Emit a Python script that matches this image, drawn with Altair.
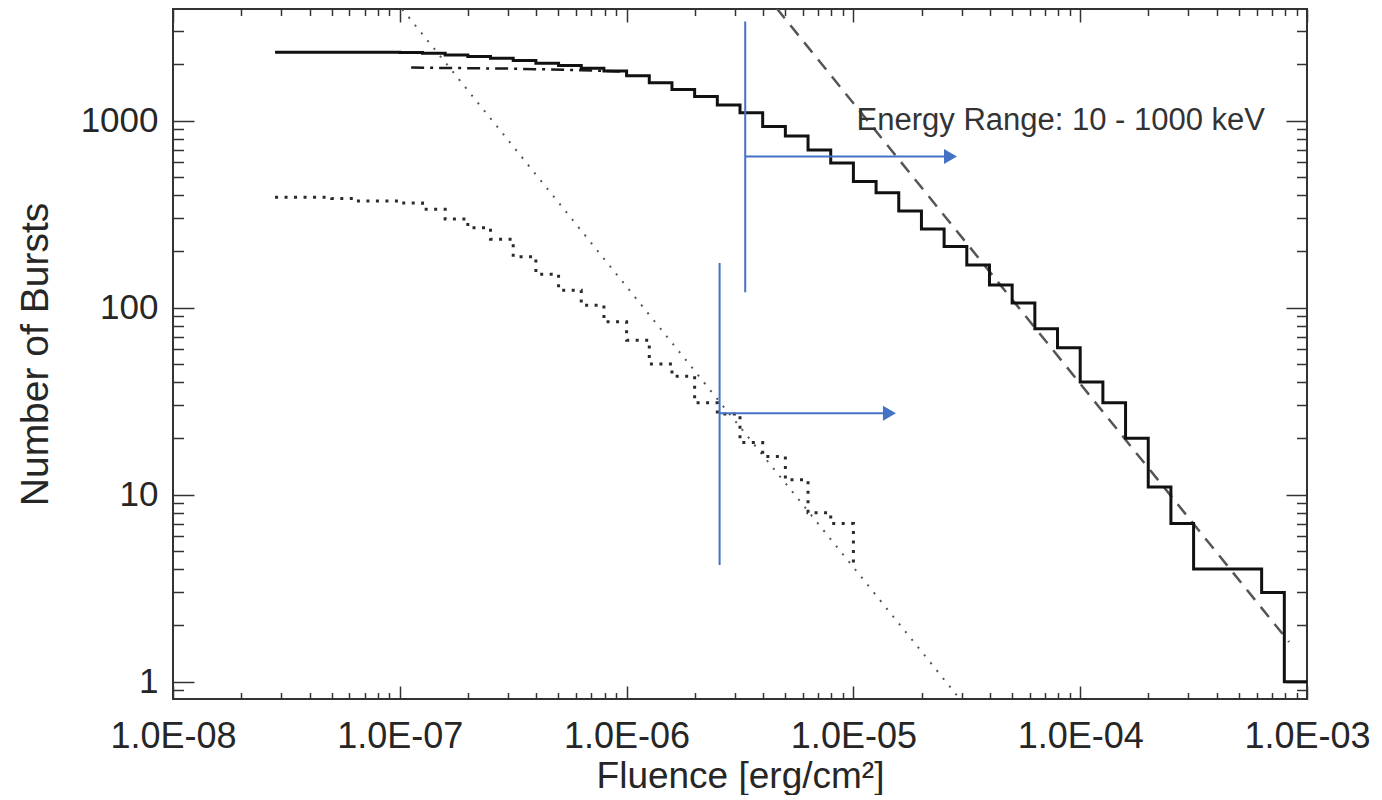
import altair as alt
import pandas as pd

# ---- data (fluence as log10 values, counts as numbers) ----
# Total sample, cumulative step histogram (lower bin edge in log10 fluence, count)
solid_log_edges = [-7.55, -7.1, -7.0, -6.9, -6.8, -6.7, -6.6, -6.5, -6.4, -6.3, -6.2,
                   -6.1, -6.0, -5.9, -5.8, -5.7, -5.6, -5.5, -5.4, -5.3, -5.2, -5.1,
                   -5.0, -4.9, -4.8, -4.7, -4.6, -4.5, -4.4, -4.3, -4.2, -4.1, -4.0,
                   -3.9, -3.8, -3.7, -3.6, -3.5, -3.2, -3.1, -3.0]
solid_counts = [2322, 2318, 2310, 2293, 2245, 2199, 2156, 2094, 2028, 1969, 1907,
                1844, 1734, 1591, 1468, 1344, 1213, 1100, 929, 828, 697, 594,
                472, 411, 329, 263, 212, 169, 132, 106, 77, 61, 40,
                31, 20, 11, 7, 4, 3, 1, 1]

# Sub-sample, cumulative step histogram (dotted)
dotted_log_edges = [-7.55, -7.3, -7.2, -7.0, -6.9, -6.8, -6.7, -6.6, -6.5, -6.4, -6.3,
                    -6.2, -6.1, -6.0, -5.9, -5.8, -5.7, -5.6, -5.5, -5.4, -5.3, -5.2,
                    -5.1, -5.0]
dotted_counts = [389, 383, 372, 362, 336, 298, 267, 232, 187, 151, 124,
                 103, 84, 67, 50, 43, 31, 27, 19, 16, 12, 8,
                 7, 4]

# Dash-dot model curve
dashdot_log_f = [-6.95, -6.5, -6.2, -6.03]
dashdot_counts = [1920, 1895, 1860, 1830]

# Power-law reference lines (end points)
pl_dotted_log_f = [-7.1, -4.4]
pl_dotted_counts = [5778, 0.515]
pl_dashed_log_f = [-5.4, -3.079]
pl_dashed_counts = [4928, 1.63]

# Blue threshold markers
marker_log_f = [-5.477, -5.590]
marker_top = [3383, 173]
marker_bottom = [121, 4.2]
arrow_level = [642, 27.2]
arrow_head_log_f = [-4.572, -4.841]

annotation_text = ["Energy Range: 10 - 1000 keV"]
annotation_log_f = [-3.185]
annotation_count = [891]

x_major = [1e-8, 1e-7, 1e-6, 1e-5, 1e-4, 1e-3]
x_minor = [m * 10.0 ** k for k in range(-8, -3) for m in range(2, 10)]
y_major = [1, 10, 100, 1000]
y_minor = [0.9] + [m * 10 ** k for k in range(0, 3) for m in range(2, 10)] + [2000, 3000]

# ---- layout ----
W, H = 1134, 690
INK = "#262626"
FRAME = "#333333"
BLUE = "#4472C4"

xs = alt.Scale(type="log", domain=[1e-8, 1e-3], nice=False)
ys = alt.Scale(type="log", domain=[0.808, 3950], nice=False)


def fl(v):
    return 10.0 ** v


solid_df = pd.DataFrame({"F": [fl(v) for v in solid_log_edges], "N": solid_counts})
dotted_df = pd.DataFrame({"F": [fl(v) for v in dotted_log_edges], "N": dotted_counts})
dashdot_df = pd.DataFrame({"F": [fl(v) for v in dashdot_log_f], "N": dashdot_counts})
pld_df = pd.DataFrame({"F": [fl(v) for v in pl_dotted_log_f], "N": pl_dotted_counts})
pls_df = pd.DataFrame({"F": [fl(v) for v in pl_dashed_log_f], "N": pl_dashed_counts})
vmark_df = pd.DataFrame({"F": [fl(v) for v in marker_log_f], "N1": marker_top, "N2": marker_bottom})
hmark_df = pd.DataFrame({"F1": [fl(v) for v in marker_log_f],
                         "F2": [fl(v) for v in arrow_head_log_f], "N": arrow_level})
head_df = pd.DataFrame({"F": [fl(v) for v in arrow_head_log_f], "N": arrow_level})
text_df = pd.DataFrame({"F": [fl(v) for v in annotation_log_f], "N": annotation_count,
                        "t": annotation_text})
dummy = pd.DataFrame({"F": [1e-6], "N": [10]})


def X(field="F"):
    return alt.X(f"{field}:Q", scale=xs, axis=None)


def Y(field="N"):
    return alt.Y(f"{field}:Q", scale=ys, axis=None)


solid = alt.Chart(solid_df).mark_line(interpolate="step-after", color="#111111",
                                      strokeWidth=3).encode(x=X(), y=Y())
dotted = alt.Chart(dotted_df).mark_line(interpolate="step-after", color="#2a2a2a",
                                        strokeWidth=3, strokeDash=[3, 6.5]).encode(x=X(), y=Y())
dashdot = alt.Chart(dashdot_df).mark_line(color="#1a1a1a", strokeWidth=2.5,
                                          strokeDash=[13, 6, 3, 6]).encode(x=X(), y=Y())
pl_dotted = alt.Chart(pld_df).mark_line(color="#555555", strokeWidth=2, clip=True,
                                        strokeDash=[2, 8]).encode(x=X(), y=Y())
pl_dashed = alt.Chart(pls_df).mark_line(color="#555555", strokeWidth=2.5, clip=True,
                                        strokeDash=[13, 9]).encode(x=X(), y=Y())
vrules = alt.Chart(vmark_df).mark_rule(color=BLUE, strokeWidth=2).encode(
    x=X(), y=Y("N1"), y2="N2:Q")
hrules = alt.Chart(hmark_df).mark_rule(color=BLUE, strokeWidth=2).encode(
    x=X("F1"), x2="F2:Q", y=Y())
heads = alt.Chart(head_df).mark_point(shape="triangle-right", filled=True, size=225,
                                      color=BLUE, opacity=1).encode(x=X(), y=Y())
label = alt.Chart(text_df).mark_text(align="right", baseline="alphabetic", fontSize=31,
                                     color="#333333").encode(x=X(), y=Y(), text="t:N")

x_label_expr = ("'1.0E-' + (round(-log(datum.value)/LN10) < 10 ? '0' : '') + "
                "round(-log(datum.value)/LN10)")

axes_labels = alt.Chart(dummy).mark_point(opacity=0, size=0).encode(
    x=alt.X("F:Q", scale=xs, axis=alt.Axis(
        orient="bottom", values=x_major, labelExpr=x_label_expr, ticks=False, tickSize=0,
        domain=False, grid=False, labelFontSize=36, labelPadding=20, labelColor=INK,
        labelFlush=False, labelOverlap=False,
        title="Fluence [erg/cm²]", titleFontSize=37, titleFontWeight="normal",
        titleColor=INK, titleX=W / 2, titleY=88, titleAlign="center",
        titleBaseline="alphabetic")),
    y=alt.Y("N:Q", scale=ys, axis=alt.Axis(
        orient="left", values=y_major, format="d", ticks=False, tickSize=0,
        domain=False, grid=False, labelFontSize=35, labelPadding=15, labelColor=INK,
        labelFlush=False, labelOverlap=False,
        title="Number of Bursts", titleFontSize=39, titleFontWeight="normal",
        titleColor=INK, titleX=-126, titleY=H / 2, titleAngle=270, titleAlign="center",
        titleBaseline="alphabetic")),
)


def tick_layer(xvals, yvals, xsize, ysize, xorient, yorient):
    return alt.Chart(dummy).mark_point(opacity=0, size=0).encode(
        x=alt.X("F:Q", scale=xs, axis=alt.Axis(
            orient=xorient, offset=-H, values=xvals, labels=False, domain=False,
            grid=False, tickSize=xsize, tickWidth=1.5, tickColor=FRAME, title=None)),
        y=alt.Y("N:Q", scale=ys, axis=alt.Axis(
            orient=yorient, offset=-W, values=yvals, labels=False, domain=False,
            grid=False, tickSize=ysize, tickWidth=1.5, tickColor=FRAME, title=None)),
    )


ticks_a_major = tick_layer(x_major, y_major, 13, 21, "top", "right")
ticks_a_minor = tick_layer(x_minor, y_minor, 6.5, 10.5, "top", "right")
ticks_b_major = tick_layer(x_major, y_major, 13, 21, "bottom", "left")
ticks_b_minor = tick_layer(x_minor, y_minor, 6.5, 10.5, "bottom", "left")

chart = alt.layer(
    axes_labels, ticks_a_major, ticks_a_minor, ticks_b_major, ticks_b_minor,
    pl_dotted, pl_dashed, dotted, dashdot, solid, vrules, hrules, heads, label,
).resolve_axis(x="independent", y="independent").properties(
    width=W, height=H,
    autosize=alt.AutoSizeParams(type="none"),
    padding={"left": 165, "top": 1, "right": 66, "bottom": 96},
).configure(font="Liberation Sans").configure_view(stroke=FRAME, strokeWidth=2)

chart.save("out.html", embed_options={"renderer": "svg", "actions": False})
